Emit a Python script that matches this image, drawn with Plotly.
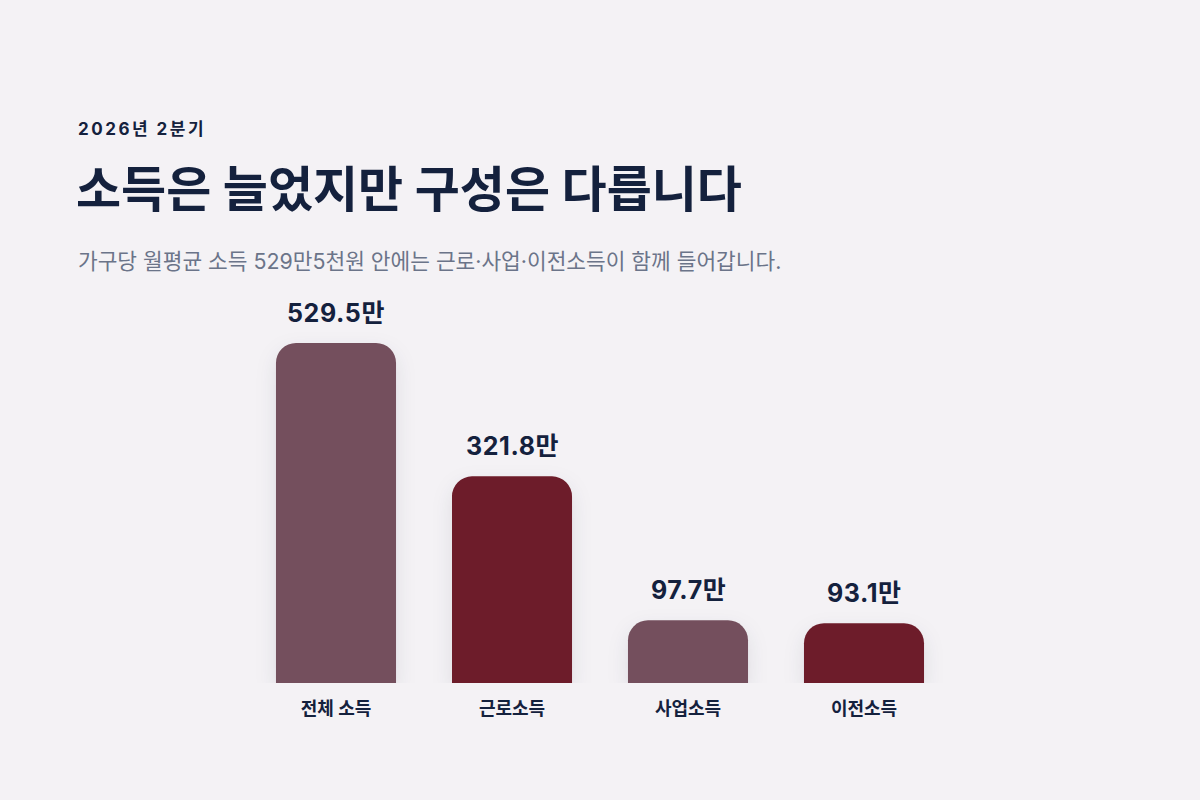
import plotly.graph_objects as go

# data
categories = ["전체 소득", "근로소득", "사업소득", "이전소득"]
values = [529.5, 321.8, 97.7, 93.1]
value_labels = ["529.5만", "321.8만", "97.7만", "93.1만"]
bar_colors = ["#744F5D", "#6D1C2A", "#744F5D", "#6D1C2A"]

bg = "#F4F2F5"
ink = "#14213D"
muted = "#6B7489"
font = "Inter, Noto Sans CJK KR"

# plot area in pixels (1200x800 page)
left, right, top, bottom = 248, 248, 300, 117
plot_h = 800 - top - bottom
plot_w = 1200 - left - right


def px_x(x):
    return (x - left) / plot_w


def px_y(y):
    return (800 - bottom - y) / plot_h


fig = go.Figure()
fig.add_trace(go.Bar(
    x=categories, y=values,
    marker=dict(color=bar_colors, cornerradius=20, line=dict(width=0)),
    hoverinfo="skip",
))

# value labels above bars
for c, v, t in zip(categories, values, value_labels):
    fig.add_annotation(x=c, y=v, text=f'<span style="letter-spacing:0.6px">{t}</span>',
                       showarrow=False, yanchor="bottom", yshift=13,
                       font=dict(family=font, size=25, color=ink, weight="bold"))

# header texts
fig.add_annotation(x=px_x(76), y=px_y(129), xref="paper", yref="paper",
                   text='<span style="letter-spacing:2.5px">2026년 2분기</span>',
                   showarrow=False, xanchor="left", yanchor="middle",
                   font=dict(family=font, size=17, color=ink, weight="bold"))
fig.add_annotation(x=px_x(74), y=px_y(190), xref="paper", yref="paper",
                   text="소득은 늘었지만 구성은 다릅니다", showarrow=False,
                   xanchor="left", yanchor="middle",
                   font=dict(family=font, size=49, color=ink, weight="bold"))
fig.add_annotation(x=px_x(76), y=px_y(261), xref="paper", yref="paper",
                   text="가구당 월평균 소득 529만5천원 안에는 근로·사업·이전소득이 함께 들어갑니다.",
                   showarrow=False, xanchor="left", yanchor="middle",
                   font=dict(family=font, size=21.4, color=muted))

fig.update_layout(
    width=1200, height=800,
    margin=dict(l=left, r=right, t=top, b=bottom),
    paper_bgcolor=bg, plot_bgcolor=bg,
    bargap=0.318,
    showlegend=False,
    xaxis=dict(showgrid=False, zeroline=False, showline=False,
               ticks="", ticklabelstandoff=13,
               tickfont=dict(family=font, size=18, color=ink, weight="bold")),
    yaxis=dict(range=[0, plot_h / 340 * values[0]], visible=False,
               showgrid=False, zeroline=False),
)

# page reset + soft bar shadow
js = ("document.body.style.margin='0';"
      "document.body.style.background='" + bg + "';"
      "document.querySelectorAll('.bars .point path').forEach(function(p){"
      "p.style.filter='drop-shadow(0px 8px 10px rgba(20,33,61,0.10))';});")

fig.write_html("out.html", config={"displayModeBar": False}, post_script=js)
